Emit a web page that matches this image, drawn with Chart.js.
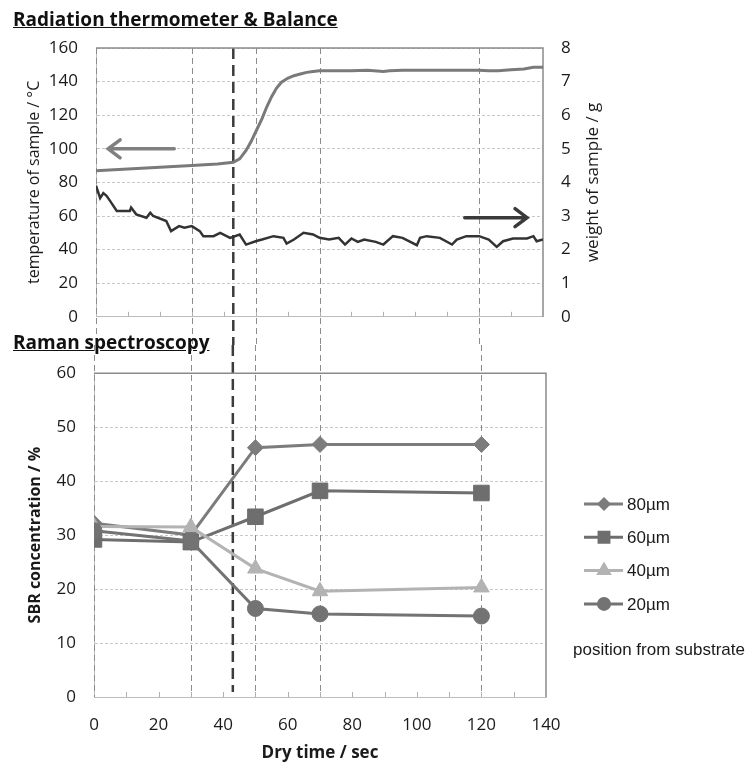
<!DOCTYPE html>
<html>
<head>
<meta charset="utf-8">
<script src="https://cdn.jsdelivr.net/npm/chart.js@4.4.0/dist/chart.umd.min.js"></script>
<style>
  body { margin: 0; background: #fff; width: 755px; height: 765px; position: relative; overflow: hidden; font-family: "Open Sans", sans-serif; }
  .ttl { position: absolute; left: 13px; z-index: 2; font-weight: bold; font-size: 19px; line-height: 1; text-decoration: underline; color: #111; white-space: nowrap; }
  canvas { position: absolute; left: 0; }
  #top { top: 0; }
  #bot { top: 345px; }
</style>
</head>
<body>
<div class="ttl" style="top:10px">Radiation thermometer &amp; Balance</div>
<div class="ttl" style="top:333px">Raman spectroscopy</div>
<canvas id="top" width="755" height="345"></canvas>
<canvas id="bot" width="755" height="420"></canvas>
<script>
// times where Raman spectra were taken, and the moment the film turns
const markTimes = [0, 30, 50, 70, 120];
const switchTime = 43;

// radiation thermometer (deg C)
const tempTime = [0, 10, 20, 30, 38, 43, 45, 47, 48.5, 50, 52, 53.5, 55, 56.5, 58, 60, 62, 64, 66, 68,
  70, 75, 80, 85, 88, 90, 92, 96, 100, 105, 110, 115, 120, 123, 126, 130, 134, 137, 140];
const tempValues = [87, 88, 89, 90, 91, 92, 94, 99, 104, 110, 118, 125, 131, 136, 139.5, 142, 143.5, 144.5, 145.5, 146,
  146.5, 146.5, 146.5, 146.7, 146.3, 146, 146.5, 146.8, 146.7, 146.8, 146.8, 146.8, 146.8, 146.5, 146.5, 147, 147.5, 148.5, 148.5];

// balance (g)
const weightTime = [0, 1.3, 2.3, 3.3, 4.4, 6.5, 10.6, 11, 12.6, 15.8, 17, 17.9, 22, 23.5, 26, 27.7, 30, 32.5, 33.6, 36.8,
  38.9, 42, 45, 47, 50, 52, 55.6, 58.7, 59.7, 62, 65, 68, 70, 73, 76, 78, 80, 82, 84, 87.6,
  90, 93, 96, 100.5, 101.5, 103.6, 107.7, 111.5, 113, 116, 120, 123, 125.5, 127.5, 130.6, 135, 137, 138, 140];
const weightValues = [3.9, 3.53, 3.68, 3.6, 3.45, 3.15, 3.15, 3.25, 3.05, 2.95, 3.1, 3.0, 2.85, 2.55, 2.7, 2.65, 2.7, 2.55, 2.4, 2.4,
  2.5, 2.35, 2.45, 2.15, 2.25, 2.3, 2.4, 2.35, 2.18, 2.3, 2.5, 2.45, 2.35, 2.3, 2.35, 2.15, 2.33, 2.23, 2.3, 2.23,
  2.15, 2.4, 2.35, 2.13, 2.35, 2.4, 2.35, 2.15, 2.3, 2.4, 2.4, 2.3, 2.08, 2.25, 2.33, 2.33, 2.4, 2.25, 2.3];

// Raman spectroscopy, SBR concentration (%)
const ramanTime = [0, 30, 50, 70, 120];
const depthLabels = ['80µm', '60µm', '40µm', '20µm'];
const sbr80 = [32.2, 30.0, 46.2, 46.8, 46.8];
const sbr60 = [29.2, 28.7, 33.4, 38.2, 37.8];
const sbr40 = [31.6, 31.5, 23.8, 19.6, 20.3];
const sbr20 = [30.8, 28.9, 16.4, 15.4, 15.0];

// the two arrows pointing at their axes (data units)
const arrows = [
  { axis: 'y', value: 100, from: 24.5, to: 3.8, color: '#808080' },
  { axis: 'y2', value: 2.95, from: 115.5, to: 135, color: '#3a3a3a' }
];

const tickFont = { family: 'Open Sans', size: 17 };
const pts = (xs, ys) => xs.map((x, i) => ({ x: x, y: ys[i] }));

// dashed time markers, frame and inner tick marks
const timeMarks = {
  id: 'timeMarks',
  beforeDatasetsDraw(chart, args, opts) {
    const ctx = chart.ctx, a = chart.chartArea, x = chart.scales.x;
    const y0 = opts.up ? 0 : a.top;
    const y1 = opts.up ? a.bottom : chart.height;
    ctx.save();
    ctx.strokeStyle = '#8c8c8c';
    ctx.lineWidth = 1;
    ctx.setLineDash([6, 4]);
    markTimes.forEach(t => {
      const px = Math.round(x.getPixelForValue(t)) + 0.5;
      ctx.beginPath(); ctx.moveTo(px, y0); ctx.lineTo(px, y1); ctx.stroke();
    });
    ctx.strokeStyle = '#3c3c3c';
    ctx.lineWidth = 2.5;
    ctx.setLineDash([11, 6]);
    const sx = x.getPixelForValue(switchTime);
    ctx.beginPath(); ctx.moveTo(sx, y0); ctx.lineTo(sx, opts.up ? a.bottom - 5 : y1); ctx.stroke();

    ctx.setLineDash([]);
    ctx.strokeStyle = '#8a8a8a';
    ctx.lineWidth = 1.5;
    ctx.beginPath(); ctx.moveTo(a.left, a.top); ctx.lineTo(a.right, a.top); ctx.lineTo(a.right, a.bottom); ctx.stroke();
    ctx.strokeStyle = '#b0b0b0';
    ctx.lineWidth = 1;
    ctx.beginPath();
    for (let t = x.min + 10; t < x.max; t += 10) {
      const px = Math.round(x.getPixelForValue(t)) + 0.5;
      ctx.moveTo(px, a.bottom); ctx.lineTo(px, a.bottom - 5);
    }
    ctx.stroke();
    ctx.restore();
  }
};

const extras = {
  id: 'extras',
  afterDraw(chart) {
    const ctx = chart.ctx, x = chart.scales.x;
    ctx.save();
    arrows.forEach(ar => {
      const y = chart.scales[ar.axis].getPixelForValue(ar.value);
      const x0 = x.getPixelForValue(ar.from), x1 = x.getPixelForValue(ar.to);
      const dir = x1 > x0 ? 1 : -1;
      ctx.strokeStyle = ar.color;
      ctx.lineWidth = 3.5;
      ctx.lineCap = 'round';
      ctx.beginPath();
      ctx.moveTo(x0, y); ctx.lineTo(x1, y);
      ctx.moveTo(x1 - dir * 12, y - 9); ctx.lineTo(x1, y); ctx.lineTo(x1 - dir * 12, y + 9);
      ctx.stroke();
    });
    // right axis title reads bottom to top like the left one
    const s = chart.scales.y2;
    ctx.translate(s.left + 50, (s.top + s.bottom) / 2);
    ctx.rotate(-Math.PI / 2);
    ctx.fillStyle = '#1a1a1a';
    ctx.font = '17px "Open Sans"';
    ctx.textAlign = 'center';
    ctx.textBaseline = 'middle';
    ctx.fillText('weight of sample / g', 0, 0);
    ctx.restore();
  }
};

new Chart(document.getElementById('top'), {
  type: 'line',
  data: {
    datasets: [
      { label: 'temperature', data: pts(tempTime, tempValues), yAxisID: 'y', borderColor: '#7a7a7a', borderWidth: 3, pointRadius: 0 },
      { label: 'weight', data: pts(weightTime, weightValues), yAxisID: 'y2', borderColor: '#333333', borderWidth: 2.5, pointRadius: 0 }
    ]
  },
  options: {
    responsive: false,
    animation: false,
    layout: { padding: { top: 48, left: 21, right: 152, bottom: 0 } },
    plugins: { legend: { display: false }, tooltip: { enabled: false }, timeMarks: { up: false } },
    scales: {
      x: {
        type: 'linear', min: 0, max: 140,
        ticks: { display: false },
        grid: { display: false },
        border: { color: '#bdbdbd' },
        afterFit(s) { s.height = 24; }
      },
      y: {
        min: 0, max: 160,
        ticks: { stepSize: 20, padding: 18, color: '#1a1a1a', font: tickFont },
        grid: { color: '#c8c8c8', drawTicks: false },
        border: { color: '#bdbdbd', dash: [3, 2] },
        title: { display: true, text: 'temperature of sample / °C', color: '#1a1a1a', font: { family: 'Open Sans', size: 16 } },
        afterFit(s) { s.width = 75; }
      },
      y2: {
        position: 'right', min: 0, max: 8,
        ticks: { stepSize: 1, padding: 18, color: '#1a1a1a', font: tickFont },
        grid: { drawOnChartArea: false, drawTicks: false },
        border: { display: false },
        afterFit(s) { s.width = 60; }
      }
    }
  },
  plugins: [timeMarks, extras]
});

const seriesStyle = [
  { color: '#7c7c7c', style: 'rectRot', r: 8, lr: 5 },
  { color: '#6e6e6e', style: 'rect', r: 11, lr: 7 },
  { color: '#b3b3b3', style: 'triangle', r: 9, lr: 6 },
  { color: '#737373', style: 'circle', r: 8, lr: 5.5 }
];
const sbrSeries = [sbr80, sbr60, sbr40, sbr20];

const legendBox = {
  id: 'legendBox',
  afterDraw(chart) {
    const ctx = chart.ctx;
    ctx.save();
    chart.data.datasets.forEach((ds, i) => {
      const y = 159 + i * 33.3;
      const st = seriesStyle[i];
      ctx.strokeStyle = ds.borderColor;
      ctx.fillStyle = ds.borderColor;
      ctx.lineWidth = 3;
      ctx.beginPath(); ctx.moveTo(584, y); ctx.lineTo(623, y); ctx.stroke();
      Chart.helpers.drawPoint(ctx, { pointStyle: st.style, radius: st.lr, rotation: 0, borderWidth: 1 }, 604, y);
      ctx.fillStyle = '#1a1a1a';
      ctx.font = '17px "Liberation Sans", Arial, sans-serif';
      ctx.textBaseline = 'middle';
      ctx.fillText(ds.label, 627, y + 1);
    });
    ctx.fillStyle = '#1a1a1a';
    ctx.fillText('position from substrate', 573, 305);
    ctx.restore();
  }
};

new Chart(document.getElementById('bot'), {
  type: 'line',
  data: {
    datasets: depthLabels.map((lab, i) => ({
      label: lab,
      data: pts(ramanTime, sbrSeries[i]),
      borderColor: seriesStyle[i].color,
      backgroundColor: seriesStyle[i].color,
      borderWidth: 3,
      pointStyle: seriesStyle[i].style,
      pointRadius: seriesStyle[i].r,
      pointBorderWidth: 1,
      order: 4 - i
    }))
  },
  options: {
    responsive: false,
    animation: false,
    layout: { padding: { top: 25, left: 22, right: 209, bottom: 0 } },
    plugins: { legend: { display: false }, tooltip: { enabled: false }, timeMarks: { up: true } },
    scales: {
      x: {
        type: 'linear', min: 0, max: 140,
        ticks: { stepSize: 20, padding: 10, color: '#1a1a1a', font: tickFont },
        grid: { display: false },
        border: { color: '#bdbdbd' },
        title: { display: true, text: 'Dry time / sec', color: '#1a1a1a', padding: { top: 0, bottom: 2 }, font: { family: 'Open Sans', size: 17, weight: 'bold' } },
        afterFit(s) { s.height = 68; }
      },
      y: {
        min: 0, max: 60,
        ticks: { stepSize: 10, padding: 18, color: '#1a1a1a', font: tickFont },
        grid: { color: '#c8c8c8', drawTicks: false },
        border: { color: '#bdbdbd', dash: [3, 2] },
        title: { display: true, text: 'SBR concentration / %', color: '#1a1a1a', font: { family: 'Open Sans', size: 16, weight: 'bold' } },
        afterFit(s) { s.width = 72; }
      }
    }
  },
  plugins: [timeMarks, legendBox]
});
</script>
</body>
</html>
